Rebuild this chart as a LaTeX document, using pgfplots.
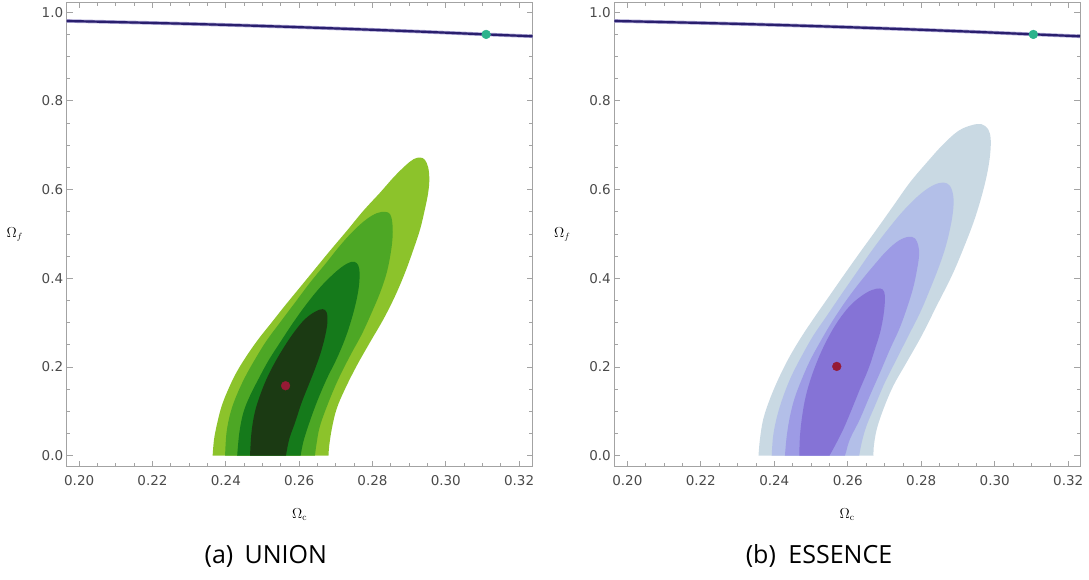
\documentclass[border=0pt]{standalone}
\usepackage{pgfplots}
\pgfplotsset{compat=1.18}
\usepackage{fontspec}
\newfontfamily\tickfont{DejaVu Sans}
\newfontfamily\capfont{Open Sans}
\definecolor{framegray}{HTML}{A3A3A3}
\definecolor{labgray}{HTML}{4A4A4A}
\definecolor{gA}{HTML}{1B3A13}
\definecolor{gB}{HTML}{157A1B}
\definecolor{gC}{HTML}{4DA725}
\definecolor{gD}{HTML}{8CC32B}
\definecolor{bA}{HTML}{8573D6}
\definecolor{bB}{HTML}{9D9BE5}
\definecolor{bC}{HTML}{B3BFE8}
\definecolor{bD}{HTML}{C9D9E3}
\definecolor{navy}{HTML}{2A1F6E}
\definecolor{halo}{HTML}{A9A3D2}
\definecolor{dotred}{HTML}{961A35}
\definecolor{dotgreen}{HTML}{2BB38C}

\pgfplotsset{
  mma/.style={
    scale only axis, width=466pt, height=464.4pt,
    ymin=-0.0248, ymax=1.0221,
    xtick={0.20,0.22,0.24,0.26,0.28,0.30,0.32},
    ytick={0,0.2,0.4,0.6,0.8,1.0},
    minor x tick num=3, minor y tick num=3,
    tick align=inside, major tick length=6pt, minor tick length=3.5pt,
    axis line style={framegray, line width=0.8pt},
    every tick/.style={framegray, line width=0.7pt},
    /pgf/number format/assume math mode=true,
    tick label style={font=\fontsize{13.5}{14}\tickfont, text=labgray},
    x tick label style={/pgf/number format/fixed, /pgf/number format/fixed zerofill, /pgf/number format/precision=2, yshift=-5pt},
    y tick label style={/pgf/number format/fixed, /pgf/number format/fixed zerofill, /pgf/number format/precision=1},
    xlabel={$\Omega_{\mathrm{c}}$}, ylabel={$\Omega_{f}$},
    label style={font=\fontsize{13.5}{13.5}\selectfont},
    xlabel style={at={(axis description cs:0.5,0)}, anchor=center, yshift=-48pt},
    ylabel style={at={(axis description cs:0,0.5)}, anchor=center, rotate=-90, xshift=-52pt},
    clip=true,
    every axis plot/.append style={tension=0.6},
  }
}

\begin{document}
\begin{tikzpicture}
\useasboundingbox (0pt,0pt) rectangle (1089pt,579pt);

% ---------------- (a) UNION ----------------
\begin{axis}[mma, at={(66.7pt,112.3pt)}, anchor=south west, xmin=0.1966, xmax=0.3237]
\addplot[fill=gD, draw=none, smooth] coordinates {
(0.2364,0) (0.2368,0.0376) (0.2377,0.0751) (0.2389,0.1127) (0.2407,0.1502) (0.2429,0.1878)
(0.2457,0.2253) (0.2489,0.2629) (0.2525,0.3004) (0.2561,0.3380) (0.2602,0.3793) (0.2643,0.4206)
(0.2684,0.4619) (0.2730,0.5069) (0.2775,0.5520) (0.2821,0.5933) (0.2857,0.6271) (0.2889,0.6534)
(0.2912,0.6684) (0.2930,0.6722) (0.2943,0.6669) (0.2952,0.6496) (0.2955,0.6233) (0.2952,0.5933)
(0.2943,0.5557) (0.2930,0.5107) (0.2912,0.4656) (0.2889,0.4131) (0.2862,0.3605) (0.2830,0.3079)
(0.2793,0.2553) (0.2757,0.2028) (0.2725,0.1502) (0.2702,0.1051) (0.2689,0.0601) (0.2682,0.0225)
(0.2680,0)} -- cycle;
\addplot[fill=gC, draw=none, smooth] coordinates {
(0.2398,0) (0.2402,0.0526) (0.2413,0.0976) (0.2429,0.1352) (0.2452,0.1765) (0.2480,0.2178)
(0.2511,0.2591) (0.2548,0.3004) (0.2589,0.3455) (0.2630,0.3905) (0.2671,0.4318) (0.2711,0.4731)
(0.2748,0.5069) (0.2784,0.5332) (0.2812,0.5467) (0.2834,0.5497) (0.2848,0.5445) (0.2854,0.5257)
(0.2855,0.4957) (0.2850,0.4581) (0.2839,0.4131) (0.2821,0.3680) (0.2798,0.3229) (0.2771,0.2741)
(0.2739,0.2253) (0.2707,0.1727) (0.2680,0.1202) (0.2657,0.0676) (0.2648,0.0300) (0.2643,0)} -- cycle;
\addplot[fill=gB, draw=none, smooth] coordinates {
(0.2431,0) (0.2437,0.0526) (0.2448,0.0976) (0.2466,0.1352) (0.2489,0.1727) (0.2516,0.2140)
(0.2548,0.2553) (0.2584,0.3004) (0.2620,0.3417) (0.2657,0.3793) (0.2693,0.4093) (0.2721,0.4281)
(0.2743,0.4371) (0.2757,0.4341) (0.2764,0.4206) (0.2764,0.3905) (0.2757,0.3530) (0.2743,0.3079)
(0.2725,0.2629) (0.2702,0.2178) (0.2675,0.1727) (0.2648,0.1202) (0.2625,0.0676) (0.2611,0.0300)
(0.2604,0)} -- cycle;
\addplot[fill=gA, draw=none, smooth] coordinates {
(0.2466,0) (0.2470,0.0526) (0.2479,0.0976) (0.2493,0.1352) (0.2511,0.1727) (0.2534,0.2103)
(0.2561,0.2478) (0.2589,0.2816) (0.2616,0.3079) (0.2643,0.3244) (0.2664,0.3304) (0.2675,0.3229)
(0.2677,0.3004) (0.2671,0.2704) (0.2659,0.2328) (0.2643,0.1953) (0.2625,0.1577) (0.2607,0.1202)
(0.2589,0.0751) (0.2573,0.0376) (0.2564,0)} -- cycle;
\addplot[halo, line width=3.6pt, smooth] coordinates {
(0.1966,0.9800) (0.2300,0.9735) (0.2600,0.9660) (0.2900,0.9570) (0.3110,0.9497) (0.3237,0.9455)};
\addplot[navy, line width=2.2pt, smooth] coordinates {
(0.1966,0.9800) (0.2300,0.9735) (0.2600,0.9660) (0.2900,0.9570) (0.3110,0.9497) (0.3237,0.9455)};
\addplot[only marks, mark=*, mark size=4.4pt, dotred] coordinates {(0.2563,0.1577)};
\addplot[only marks, mark=*, mark size=4.4pt, dotgreen] coordinates {(0.3110,0.9497)};
\end{axis}

% ---------------- (b) ESSENCE ----------------
\begin{axis}[mma, at={(614.3pt,112.3pt)}, anchor=south west, width=465.7pt, xmin=0.19646, xmax=0.3232]
\addplot[fill=bD, draw=none, smooth] coordinates {
(0.2357,0) (0.2361,0.0376) (0.2370,0.0826) (0.2388,0.1277) (0.2411,0.1727) (0.2438,0.2178)
(0.2470,0.2629) (0.2506,0.3079) (0.2547,0.3567) (0.2588,0.4055) (0.2633,0.4581) (0.2679,0.5107)
(0.2724,0.5633) (0.2769,0.6158) (0.2815,0.6609) (0.2860,0.7022) (0.2901,0.7322) (0.2937,0.7450)
(0.2964,0.7472) (0.2982,0.7360) (0.2989,0.7135) (0.2987,0.6759) (0.2978,0.6308) (0.2962,0.5783)
(0.2942,0.5257) (0.2914,0.4656) (0.2883,0.4055) (0.2842,0.3380) (0.2801,0.2704) (0.2760,0.2103)
(0.2724,0.1577) (0.2697,0.1051) (0.2679,0.0601) (0.2671,0.0225) (0.2670,0)} -- cycle;
\addplot[fill=bC, draw=none, smooth] coordinates {
(0.2393,0) (0.2397,0.0451) (0.2408,0.0901) (0.2425,0.1352) (0.2447,0.1802) (0.2475,0.2253)
(0.2506,0.2704) (0.2543,0.3154) (0.2583,0.3642) (0.2624,0.4131) (0.2665,0.4619) (0.2706,0.5069)
(0.2751,0.5520) (0.2797,0.5895) (0.2833,0.6098) (0.2860,0.6158) (0.2878,0.6083) (0.2887,0.5858)
(0.2887,0.5557) (0.2880,0.5182) (0.2867,0.4731) (0.2849,0.4281) (0.2824,0.3755) (0.2797,0.3229)
(0.2765,0.2704) (0.2733,0.2178) (0.2701,0.1652) (0.2674,0.1127) (0.2651,0.0676) (0.2638,0.0300)
(0.2631,0)} -- cycle;
\addplot[fill=bB, draw=none, smooth] coordinates {
(0.2429,0) (0.2434,0.0451) (0.2443,0.0901) (0.2456,0.1314) (0.2475,0.1727) (0.2497,0.2140)
(0.2524,0.2553) (0.2556,0.3004) (0.2592,0.3455) (0.2629,0.3868) (0.2670,0.4281) (0.2706,0.4619)
(0.2738,0.4844) (0.2765,0.4934) (0.2783,0.4897) (0.2792,0.4731) (0.2794,0.4506) (0.2787,0.4131)
(0.2777,0.3755) (0.2760,0.3304) (0.2740,0.2854) (0.2715,0.2403) (0.2688,0.1878) (0.2660,0.1352)
(0.2633,0.0826) (0.2606,0.0376) (0.2595,0.0075) (0.2592,0)} -- cycle;
\addplot[fill=bA, draw=none, smooth] coordinates {
(0.2468,0) (0.2470,0.0451) (0.2476,0.0901) (0.2486,0.1352) (0.2502,0.1802) (0.2523,0.2253)
(0.2547,0.2666) (0.2574,0.3042) (0.2606,0.3380) (0.2638,0.3605) (0.2665,0.3732) (0.2688,0.3770)
(0.2699,0.3695) (0.2701,0.3492) (0.2697,0.3154) (0.2688,0.2779) (0.2674,0.2403) (0.2656,0.1953)
(0.2633,0.1502) (0.2611,0.1051) (0.2588,0.0601) (0.2565,0.0225) (0.2550,0)} -- cycle;
\addplot[halo, line width=3.6pt, smooth] coordinates {
(0.19646,0.9800) (0.2300,0.9735) (0.2600,0.9660) (0.2900,0.9570) (0.3110,0.9497) (0.3232,0.9455)};
\addplot[navy, line width=2.2pt, smooth] coordinates {
(0.19646,0.9800) (0.2300,0.9735) (0.2600,0.9660) (0.2900,0.9570) (0.3110,0.9497) (0.3232,0.9455)};
\addplot[only marks, mark=*, mark size=4.4pt, dotred] coordinates {(0.2570,0.2013)};
\addplot[only marks, mark=*, mark size=4.4pt, dotgreen] coordinates {(0.3105,0.9497)};
\end{axis}

\node[anchor=base, font=\fontsize{25}{25}\capfont, text=black] at (265.8pt,15.7pt) {(a)\hspace{0.45em}UNION};
\node[anchor=base, font=\fontsize{25}{25}\capfont, text=black] at (819pt,15.7pt) {(b)\hspace{0.5em}ESSENCE};
\end{tikzpicture}
\end{document}
